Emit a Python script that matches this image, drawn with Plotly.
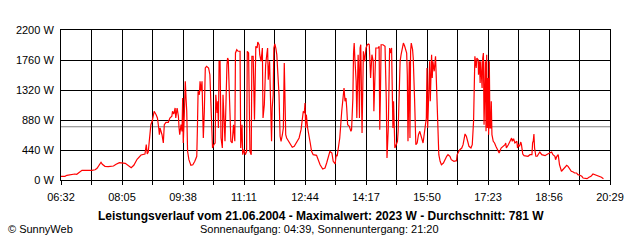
import plotly.graph_objects as go

# ---- data (minutes since midnight, watts) ----
t_a = [392,398,401,408,413,416,420,424,439,444,447,450,453,455,459,464,472,476,481,490,495,499,503,508,514,520]
w_a = [54,54,69,84,88,84,107,142,142,150,172,220,260,230,201,195,205,230,254,245,210,180,216,304,367,381]

t_b = [522,523.5,525,527,529,531,534,537,539,541,542,543,544.5,546,548,549.5,552,555.6,558,561,562,564,566,567,569,571,572,573,575,576.5,577.5,578.4,580,581.5,582.6,583.7,585,587,590,593,596,599,600,601,603,604,605.5,607,608,609,610.5,612,614,617,619,620]
w_b = [518,381,410,664,811,861,1008,958,909,763,664,763,714,664,543,811,846,846,909,934,1008,968,1056,909,1056,934,763,664,811,714,1203,543,958,1448,1203,1008,421,298,216,224,274,348,763,1301,1251,1448,1301,1448,1008,616,1008,1643,1668,1643,1544,1251]

t_c = [622,623,625,627,628,630,631,632,633,634.5,636,638,639,641,642,645,646,647,649,651,653,655,657,658,660,662,665,666,668,669,671,673,675,676,678,679,680,682,683,685,687,689,691,692,694,695,697,699,700,702,703,704,706,707,708,710,711,712,713,714,715.5,716.5,718,719.5]
w_c = [763,469,518,543,1251,983,1154,763,1741,1741,616,469,1251,664,568,1691,1789,1765,1154,568,543,811,568,1863,1911,1888,1888,469,811,371,444,371,421,1888,1863,1104,421,371,1814,1814,884,1961,1936,2023,1984,1838,1741,1936,909,1104,1594,1691,1863,1936,1471,1741,1349,616,568,1056,1251,1936,1995,1936]

t_d = [721,722.4,724.4,726,727.5,729.5,731,732.4,733.5,734.6,736,738.6,741,744.6,747.6,751,755,758,760,761.4,763,764,765,766,768,770,772,774,776.5,781.6,784,787,791,794.5,797,799.6,802,805,807,810,811.5,813,815,817]
w_d = [1838,1594,1251,641,568,664,763,1716,1154,664,616,568,543,480,494,543,616,738,958,1008,983,1129,763,958,763,616,543,421,371,362,298,224,161,176,249,348,421,396,274,235,371,348,469,616]

t_e = [820,822,823.5,825,826.5,827.6,829,831.6,834,835,837,838,839,840,842,843,845,846,847,848,849,851,852,853,855,856,857,859,861,862,864,866,868,869,870,872,874,876,877,878,879,880,883,886,888,889,891,893,894,896,898,899,901,903,905,906,907,909,910.5,912,914,916,919,920]
w_e = [1008,1203,1349,1154,1203,1056,811,788,714,738,1203,1863,2009,1789,1448,909,1838,1594,909,1936,1984,689,1838,1888,1741,1936,1936,1984,1995,1984,1496,1838,1741,1008,1301,1936,1936,1936,1961,738,1251,1984,1984,1961,1154,323,763,1936,1863,1936,763,1154,469,518,568,714,1008,1741,1838,1936,2009,1961,1863,1544]

t_f = [921,923,924,925,926,928,929,931,932,933,935,937,939,940,942,944,945,947,949,950,951,952,954,955,957,958,959,961,962,963,964,965,967,968,970,972,975,977,980,982,985,987,991,995,996,998,1000,1003,1005,1008,1010,1012,1014,1017,1019,1021]
w_f = [568,1741,616,1888,2009,1911,1789,1203,958,518,543,664,714,675,616,543,616,763,909,1643,763,1056,1741,1154,1838,1496,1741,1594,1691,1814,1544,1251,568,371,274,224,249,298,348,371,348,298,274,283,371,410,444,469,518,675,641,568,494,469,518,861]

t_g = [1022,1023,1025,1026,1028,1028.5,1030,1031,1032,1034,1035,1036,1037,1038,1039,1040,1041,1042,1043,1044,1045,1046,1047,1048,1049,1051,1053,1055,1057,1060,1063,1066,1069,1070,1071,1074,1076,1079,1080,1082,1084,1087,1088,1089,1091,1093,1094,1096,1098,1101,1104,1107,1110]
w_g = [1398,1814,1643,1789,1765,1544,1741,1423,1741,1349,1789,1863,811,1251,1741,714,1838,763,1496,664,1741,763,763,1154,664,568,543,494,444,396,469,494,518,543,469,518,568,616,568,606,543,568,469,518,494,557,518,381,357,348,348,371,371]

t_h = [1111,1112,1113,1114,1116,1118,1120,1122,1125,1127,1130,1132,1135,1137,1140,1142,1145,1146,1148,1150,1151,1152,1155,1157,1160,1163,1165,1168,1170,1173,1175,1178,1180,1183,1186,1188,1191,1194,1197,1200,1203,1206,1209,1212,1216,1219]
w_h = [543,572,675,469,348,348,381,410,371,362,357,371,381,396,410,371,348,298,348,371,298,224,128,151,176,216,201,151,128,117,103,103,78,69,54,29,19,19,40,54,88,78,69,54,40,19]

x_tick_labels = ["06:32", "08:05", "09:38", "11:11", "12:44", "14:17", "15:50", "17:23", "18:56", "20:29"]
y_tick_values = [0, 440, 880, 1320, 1760, 2200]
average_w = 781
title_text = "Leistungsverlauf vom 21.06.2004 - Maximalwert: 2023 W - Durchschnitt: 781 W"
sub_text = "Sonnenaufgang: 04:39, Sonnenuntergang: 21:20"
credit_text = "© SunnyWeb"

segs = [(t_a, w_a), (t_b, w_b), (t_c, w_c), (t_d, w_d), (t_e, w_e), (t_f, w_f), (t_g, w_g), (t_h, w_h)]
times, watts = [], []
for tt, ww in segs:
    assert len(tt) == len(ww), (len(tt), len(ww), tt[0])
    times += tt
    watts += ww

def to_min(s):
    h, m = s.split(":")
    return int(h) * 60 + int(m)

label_mins = [to_min(s) for s in x_tick_labels]
t0, t1 = label_mins[0], label_mins[-1]
tickvals, ticktext = [], []
for i in range(len(label_mins)):
    tickvals.append(label_mins[i]); ticktext.append(x_tick_labels[i])
    if i < len(label_mins) - 1:
        tickvals.append((label_mins[i] + label_mins[i + 1]) / 2); ticktext.append("")

FONT = "Liberation Sans, Arial, sans-serif"

fig = go.Figure()
fig.add_trace(go.Scatter(x=times, y=watts, mode="lines",
                         line=dict(color="#ff0000", width=1.2), hoverinfo="skip"))
fig.add_shape(type="line", xref="paper", x0=0, x1=1, yref="y", y0=average_w, y1=average_w,
              line=dict(color="#808080", width=1), layer="between")

fig.update_layout(
    width=640, height=240,
    margin=dict(l=61, r=30, t=30, b=60),
    paper_bgcolor="white", plot_bgcolor="white",
    showlegend=False,
    font=dict(family=FONT, size=11, color="black"),
    xaxis=dict(range=[t0, t1], tickmode="array", tickvals=tickvals, ticktext=ticktext,
               showgrid=True, gridcolor="black", gridwidth=1,
               showline=True, linecolor="black", linewidth=1, mirror=True,
               ticks="outside", ticklen=4, tickcolor="black", tickwidth=1,
               ticklabelstandoff=3,
               zeroline=False, tickfont=dict(size=11, family=FONT, color="black")),
    yaxis=dict(range=[0, 2200], tickmode="array", tickvals=y_tick_values,
               ticktext=[f"{v} W" for v in y_tick_values],
               showgrid=True, gridcolor="black", gridwidth=1,
               showline=True, linecolor="black", linewidth=1, mirror=True,
               ticks="", zeroline=False, ticklabelstandoff=4,
               tickfont=dict(size=11, family=FONT, color="black")),
    annotations=[
        dict(text="<b>" + title_text + "</b>", xref="paper", yref="paper", x=0.4727, y=-0.24,
             xanchor="center", yanchor="middle", showarrow=False, font=dict(size=12, family=FONT)),
        dict(text=sub_text, xref="paper", yref="paper", x=0.4709, y=-0.327,
             xanchor="center", yanchor="middle", showarrow=False, font=dict(size=11, family=FONT)),
        dict(text=credit_text, xref="paper", yref="paper", x=-0.1002, y=-0.327,
             xanchor="left", yanchor="middle", showarrow=False, font=dict(size=11, family=FONT)),
    ],
)
fig.write_html("out.html")
